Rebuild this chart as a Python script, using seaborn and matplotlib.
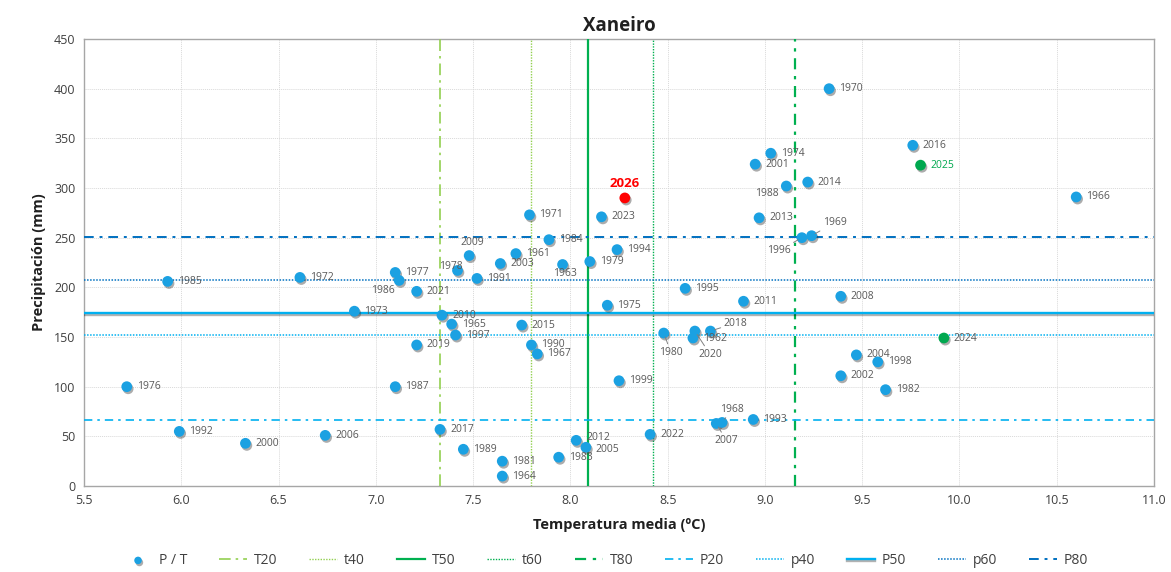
import matplotlib.pyplot as plt
import matplotlib.patheffects as pe
import seaborn as sns
import pandas as pd

# datos: temperatura media e precipitación de xaneiro por ano
years = [1961, 1962, 1963, 1964, 1965, 1966, 1967, 1968, 1969, 1970,
         1971, 1972, 1973, 1974, 1975, 1976, 1977, 1978, 1979, 1980,
         1981, 1982, 1983, 1984, 1985, 1986, 1987, 1988, 1989, 1990,
         1991, 1992, 1993, 1994, 1995, 1996, 1997, 1998, 1999, 2000,
         2001, 2002, 2003, 2004, 2005, 2006, 2007, 2008, 2009, 2010,
         2011, 2012, 2013, 2014, 2015, 2016, 2017, 2018, 2019, 2020,
         2021, 2022, 2023]
temp = [7.72, 8.63, 7.96, 7.65, 7.39, 10.60, 7.83, 8.78, 9.24, 9.33,
        7.79, 6.61, 6.89, 9.03, 8.19, 5.72, 7.10, 7.42, 8.10, 8.48,
        7.65, 9.62, 7.94, 7.89, 5.93, 7.12, 7.10, 9.11, 7.45, 7.80,
        7.52, 5.99, 8.94, 8.24, 8.59, 9.19, 7.41, 9.58, 8.25, 6.33,
        8.95, 9.39, 7.64, 9.47, 8.08, 6.74, 8.75, 9.39, 7.48, 7.34,
        8.89, 8.03, 8.97, 9.22, 7.75, 9.76, 7.33, 8.72, 7.21, 8.64,
        7.21, 8.41, 8.16]
prec = [234, 149, 223, 10, 163, 291, 133, 64, 252, 400,
        273, 210, 176, 335, 182, 100, 215, 217, 226, 154,
        25, 97, 29, 248, 206, 207, 100, 302, 37, 142,
        209, 55, 67, 238, 199, 250, 152, 125, 106, 43,
        324, 111, 224, 132, 39, 51, 63, 191, 232, 172,
        186, 46, 270, 306, 162, 343, 57, 156, 142, 156,
        196, 52, 271]

recent_years = [2024, 2025]
recent_temp = [9.92, 9.80]
recent_prec = [149, 323]

current_year = 2026
current_temp = 8.28
current_prec = 290

# percentís
t_names = ["T20", "t40", "T50", "t60", "T80"]
t_values = [7.33, 7.80, 8.09, 8.425, 9.155]
p_names = ["P20", "p40", "P50", "p60", "P80"]
p_values = [66.5, 152, 174, 207.5, 251]

df = pd.DataFrame({"year": years, "T": temp, "P": prec})
df_recent = pd.DataFrame({"year": recent_years, "T": recent_temp, "P": recent_prec})

plt.rcParams["font.family"] = ["Open Sans", "DejaVu Sans"]

fig = plt.figure(figsize=(11.71, 5.72), dpi=100)
ax = fig.add_axes([0.0717, 0.1503, 0.9138, 0.7815])

blue = "#1BA1E2"
shadow = [pe.SimplePatchShadow(offset=(1, -1.5), shadow_rgbFace="#303030", alpha=0.4),
          pe.Normal()]

# liñas de percentís
light_green = "#92D050"
green = "#00B050"
lblue = "#00B0F0"
dblue = "#0070C0"
line_styles = {
    "T20": dict(color=light_green, lw=1.2, dashes=(7, 3, 1.5, 3)),
    "t40": dict(color=light_green, lw=1.0, dashes=(1, 1)),
    "T50": dict(color=green, lw=1.6, ls="-"),
    "t60": dict(color=green, lw=1.0, dashes=(1, 1)),
    "T80": dict(color=green, lw=1.6, dashes=(5, 3, 1.5, 3)),
    "P20": dict(color=lblue, lw=1.2, dashes=(5, 3, 1.5, 3)),
    "p40": dict(color=lblue, lw=1.1, dashes=(1, 1)),
    "P50": dict(color=lblue, lw=1.7, ls="-"),
    "p60": dict(color=dblue, lw=1.1, dashes=(1, 1)),
    "P80": dict(color=dblue, lw=1.4, dashes=(5, 3, 1.5, 3)),
}

sns.scatterplot(data=df, x="T", y="P", ax=ax, color=blue, s=60,
                edgecolor="none", label="P / T", zorder=5)
for coll in ax.collections:
    coll.set_path_effects(shadow)

for name, v in zip(t_names, t_values):
    ax.axvline(v, zorder=3, label=name, **line_styles[name])
for name, v in zip(p_names, p_values):
    ln = ax.axhline(v, zorder=3, label=name, **line_styles[name])
    if name == "P50":
        ln.set_path_effects([pe.SimpleLineShadow(offset=(0, -1.5), alpha=0.3), pe.Normal()])

sc2 = ax.scatter(df_recent["T"], df_recent["P"], color="#00A84F", s=60, zorder=5,
                 edgecolor="none")
sc2.set_path_effects(shadow)
sc3 = ax.scatter([current_temp], [current_prec], color="#FF0000", s=60, zorder=5,
                 edgecolor="none")
sc3.set_path_effects(shadow)

# posición das etiquetas (offset en px, aliñamento, liña guía)
label_pos = {
    1986: (-4, -10, "right", False),
    1978: (5, 4, "right", False),
    2009: (3, 13, "center", False),
    1963: (2, -9, "center", False),
    1988: (-8, -7, "right", False),
    1996: (-11, -13, "right", True),
    1969: (11, 13, "left", True),
    1980: (7, -19, "center", True),
    2020: (15, -23, "center", True),
    2018: (13, 8, "left", True),
    1968: (10, 13, "center", True),
    2007: (10, -17, "center", True),
    2012: (10, 3, "left", False),
    2005: (10, -2, "left", False),
}
txt_color = "#595959"
for y, t, p in zip(years, temp, prec):
    dx, dy, ha, lead = label_pos.get(y, (10, 0, "left", False))
    ax.annotate(str(y), (t, p), xytext=(dx, dy), textcoords="offset pixels",
                ha=ha, va="center", fontsize=7.5, color=txt_color, zorder=6,
                arrowprops=dict(arrowstyle="-", color="#808080", lw=0.7,
                                shrinkA=0, shrinkB=3) if lead else None)

for y, t, p in zip(recent_years, recent_temp, recent_prec):
    ax.annotate(str(y), (t, p), xytext=(10, 0), textcoords="offset pixels",
                ha="left", va="center", fontsize=7.5,
                color="#00A84F" if y == 2025 else txt_color, zorder=6)
ax.annotate(str(current_year), (current_temp, current_prec), xytext=(0, 14),
            textcoords="offset pixels", ha="center", va="center", fontsize=9.5,
            fontweight="bold", color="#FF0000", zorder=6)

ax.set_xlim(5.5, 11.0)
ax.set_ylim(0, 450)
ax.set_xticks([5.5 + 0.5 * i for i in range(12)])
ax.set_yticks(range(0, 451, 50))
ax.xaxis.set_major_formatter(lambda v, _: f"{v:.1f}")
ax.tick_params(length=0, labelsize=9, colors="#404040", pad=6)
ax.grid(True, color="#D9D9D9", lw=0.7, ls=(0, (1, 1)), zorder=0)
ax.set_axisbelow(True)
for s in ax.spines.values():
    s.set_color("#A6A6A6")
    s.set_linewidth(1.0)

ax.set_title("Xaneiro", fontsize=13.5, fontweight="bold", color="#202020", pad=6)
ax.set_xlabel("Temperatura media (ºC)", fontsize=10.5, fontweight="bold",
              color="#202020", labelpad=8)
ax.set_ylabel("Precipitación (mm)", fontsize=10.5, fontweight="bold",
              color="#202020", labelpad=6)

hs, ls = ax.get_legend_handles_labels()
order = ["P / T"] + t_names + p_names
lookup = dict(zip(ls, hs))
leg = ax.legend([lookup[k] for k in order], order, loc="upper center",
                bbox_to_anchor=(0.488, -0.122), ncol=11, frameon=False,
                fontsize=10, handlelength=2.0, columnspacing=2.3,
                handletextpad=0.5, labelcolor="#404040", markerscale=0.7)

fig.savefig("out.png", dpi=100)
